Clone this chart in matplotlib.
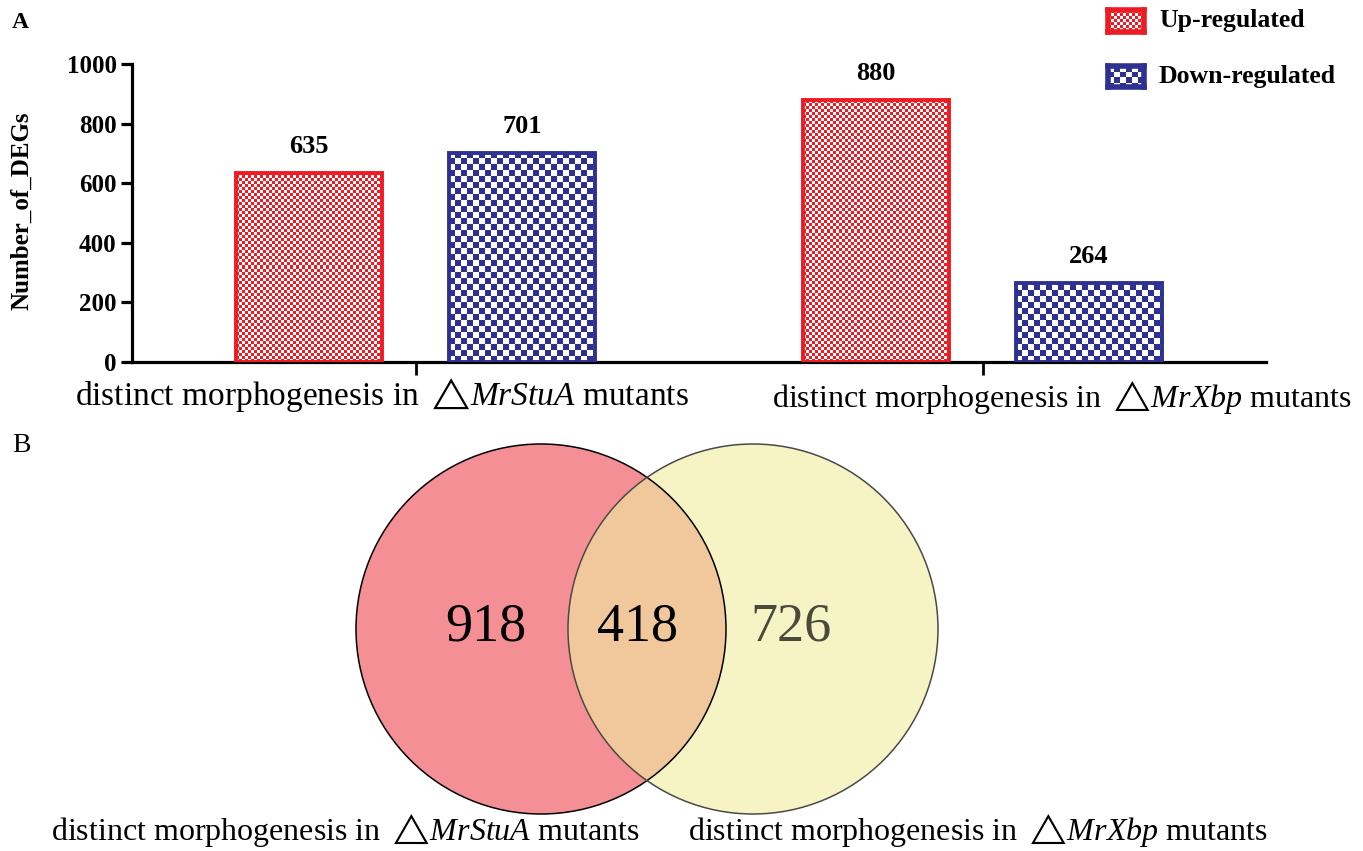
import numpy as np
import matplotlib
matplotlib.use("Agg")
import matplotlib.pyplot as plt
from matplotlib.colors import ListedColormap
from matplotlib.patches import Circle
from matplotlib import transforms

plt.rcParams['font.family'] = ['Liberation Serif', 'DejaVu Serif']
plt.rcParams['mathtext.fontset'] = 'custom'
plt.rcParams['mathtext.rm'] = 'Liberation Serif'
plt.rcParams['mathtext.it'] = 'Liberation Serif:italic'
plt.rcParams['mathtext.bf'] = 'Liberation Serif:bold'
plt.rcParams['mathtext.fallback'] = 'stix'

# ---- data ----
groups = [r"distinct morphogenesis in $\triangle\!\mathit{MrStuA}$ mutants",
          r"distinct morphogenesis in $\triangle\!\mathit{MrXbp}$ mutants"]
up_regulated = [635, 880]
down_regulated = [701, 264]
series_names = ["Up-regulated", "Down-regulated"]
y_ticks = [0, 200, 400, 600, 800, 1000]
y_label = "Number_of_DEGs"

venn_only_a = 918
venn_shared = 418
venn_only_b = 726

RED = "#ED1C24"
BLUE = "#2E3192"

W, H = 1363, 851
fig = plt.figure(figsize=(W / 100, H / 100), dpi=100)


def px_axes(x0, y0, x1, y1):
    """Axes placed by pixel box (top-left origin)."""
    return fig.add_axes([x0 / W, 1 - y1 / H, (x1 - x0) / W, (y1 - y0) / H])


def checker(nx, ny, cell):
    jj, ii = np.meshgrid(np.arange(nx), np.arange(ny))
    return ((ii // cell + jj // cell) % 2)


# ---- panel A: grouped bars ----
ax = px_axes(132, 64, 1266, 362)
x = np.arange(len(groups))
bw = 0.257
off = 0.188
ax.set_xlim(-0.5, 1.5)
ax.set_ylim(0, 1000)

bars_up = ax.bar(x - off, up_regulated, bw, facecolor="none", edgecolor=RED,
                 linewidth=2.8, zorder=3)
bars_dn = ax.bar(x + off, down_regulated, bw, facecolor="none", edgecolor=BLUE,
                 linewidth=2.8, zorder=3)


def fill_checker(bar, color, cell):
    x0, y0 = bar.get_x(), bar.get_y()
    w, h = bar.get_width(), bar.get_height()
    p0 = ax.transData.transform((x0, y0))
    p1 = ax.transData.transform((x0 + w, y0 + h))
    nx = max(int(round(p1[0] - p0[0])), 1)
    ny = max(int(round(p1[1] - p0[1])), 1)
    im = ax.imshow(checker(nx, ny, cell), extent=(x0, x0 + w, y0, y0 + h),
                   cmap=ListedColormap(["white", color]), origin="lower",
                   interpolation="nearest", aspect="auto", zorder=2)
    im.set_clip_path(bar)


for b in bars_up:
    fill_checker(b, RED, 3)
for b in bars_dn:
    fill_checker(b, BLUE, 6)

ax.set_xlim(-0.5, 1.5)
ax.set_ylim(0, 1000)

for bars in (bars_up, bars_dn):
    for b in bars:
        ax.annotate(f"{int(b.get_height())}",
                    (b.get_x() + b.get_width() / 2, b.get_height()),
                    xytext=(0, 14.5), textcoords="offset points",
                    ha="center", va="baseline", fontsize=19, fontweight="bold")

for s in ("top", "right"):
    ax.spines[s].set_visible(False)
for s in ("left", "bottom"):
    ax.spines[s].set_linewidth(2.3)
ax.set_yticks(y_ticks)
ax.set_yticklabels([str(v) for v in y_ticks], fontsize=18, fontweight="bold")
ax.tick_params(axis="y", length=8, width=2.3, pad=3)
ax.set_xticks(x)
ax.set_xticklabels(["", ""])
ax.tick_params(axis="x", length=9, width=2.0)
ax.set_ylabel(y_label, fontsize=18, fontweight="bold")
ax.yaxis.set_label_coords(-0.087, 0.507)

btrans = transforms.blended_transform_factory(ax.transData, ax.transAxes)
label_x = [-0.060, 1.140]
label_y = [-0.145, -0.150]
label_size = [24, 23]
for lx, ly, fs, g in zip(label_x, label_y, label_size, groups):
    ax.text(lx, ly, g, transform=btrans, ha="center", va="baseline",
            fontsize=fs, clip_on=False)

fig.text(12 / W, 1 - 28 / H, "A", fontsize=17, fontweight="bold")

# legend swatches
for (y0, y1), color, cell, name, ty in zip([(10, 32), (66, 87)], [RED, BLUE], [3, 6],
                                           series_names, [21, 77]):
    sw = px_axes(1108, y0, 1144, y1)
    sw.imshow(checker(36, 22, cell), cmap=ListedColormap(["white", color]),
              interpolation="nearest", aspect="auto")
    sw.set_xticks([])
    sw.set_yticks([])
    for sp in sw.spines.values():
        sp.set_color(color)
        sp.set_linewidth(4)
    fig.text(1159 / W, 1 - ty / H, name, fontsize=18.5, fontweight="bold",
             va="center", ha="left")

# ---- panel B: Venn diagram ----
vx = fig.add_axes([0, 0, 1, 420 / H])
vx.set_xlim(0, W)
vx.set_ylim(H, H - 420)
vx.set_aspect("equal")
vx.axis("off")

r = 185
ca = (541, 629)
cb = (753, 629)
left = Circle(ca, r, facecolor="#F49095", edgecolor="none", zorder=1)
right = Circle(cb, r, facecolor="#F6F4C4", edgecolor="none", zorder=2)
lens = Circle(cb, r, facecolor="#F0C89C", edgecolor="none", zorder=3)
vx.add_patch(left)
vx.add_patch(right)
vx.add_patch(lens)
lens.set_clip_path(left)
vx.add_patch(Circle(ca, r, facecolor="none", edgecolor="black", linewidth=1.1, zorder=4))
vx.add_patch(Circle(cb, r, facecolor="none", edgecolor="#4a4a44", linewidth=1.1, zorder=5))

vx.text(486, 627, str(venn_only_a), ha="center", va="center", fontsize=39, color="black", zorder=6)
vx.text(638, 627, str(venn_shared), ha="center", va="center", fontsize=39, color="black", zorder=6)
vx.text(791, 627, str(venn_only_b), ha="center", va="center", fontsize=39, color="#4a4a3c", zorder=6)

vx.text(345, 840, groups[0], ha="center", va="baseline", fontsize=23)
vx.text(978, 840, groups[1], ha="center", va="baseline", fontsize=23)

fig.text(12 / W, 1 - 452 / H, "B", fontsize=20)

fig.savefig("out.png", dpi=100)
